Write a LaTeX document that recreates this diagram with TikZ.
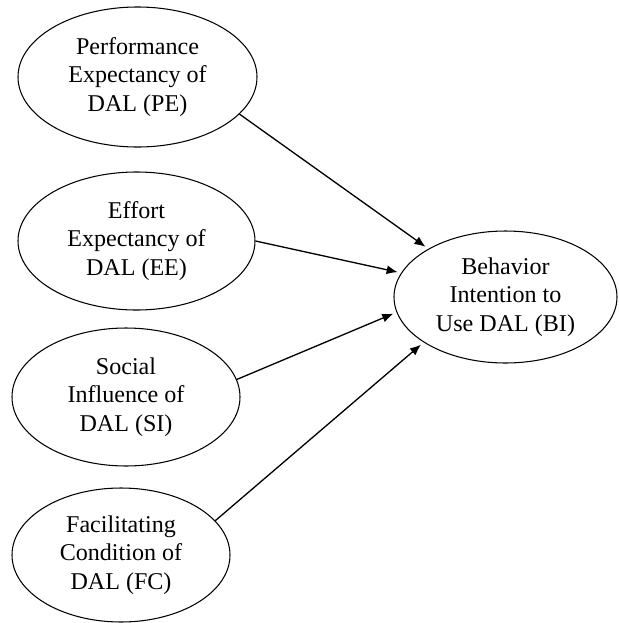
\documentclass[tikz,border=0pt]{standalone}
\usepackage{fontspec}
\setmainfont{Liberation Serif}
\usepackage{tikz}
\usetikzlibrary{arrows.meta,shapes.geometric}
\tikzset{
  >=Latex,
  construct/.style={
    ellipse,
    draw=black,
    line width=0.6pt,
    inner sep=0pt,
    align=center,
    font=\fontsize{13.7}{16.2}\selectfont
  },
  arrow/.style={
    -{Latex[length=2.2mm,width=1.8mm]},
    line width=0.75pt,
    draw=black,
    shorten >=2pt
  }
}
\begin{document}
\begin{tikzpicture}[x=1cm,y=1cm]

\useasboundingbox (0,0) rectangle (12.38,-12.46);

% exogenous constructs
\node[construct, minimum width=4.78cm, minimum height=2.80cm] (PE) at (2.75,-1.54)
{Performance\\Expectancy of\\DAL (PE)};

\node[construct, minimum width=4.74cm, minimum height=2.76cm] (EE) at (2.73,-4.82)
{Effort\\Expectancy of\\DAL (EE)};

\node[construct, minimum width=4.56cm, minimum height=2.76cm] (SI) at (2.52,-7.94)
{Social\\Influence of\\DAL (SI)};

\node[construct, minimum width=4.36cm, minimum height=2.68cm] (FC) at (2.42,-11.10)
{Facilitating\\Condition of\\DAL (FC)};

% endogenous construct
\node[construct, minimum width=4.46cm, minimum height=2.64cm] (BI) at (10.11,-5.94)
{Behavior\\Intention to\\Use DAL (BI)};

\draw[arrow] (PE.-20) -- (BI.148);
\draw[arrow] (EE.0) -- (BI.167);
\draw[arrow] (SI.9) -- (BI.-172);
\draw[arrow] (FC.20) -- (BI.-151);

\end{tikzpicture}
\end{document}
